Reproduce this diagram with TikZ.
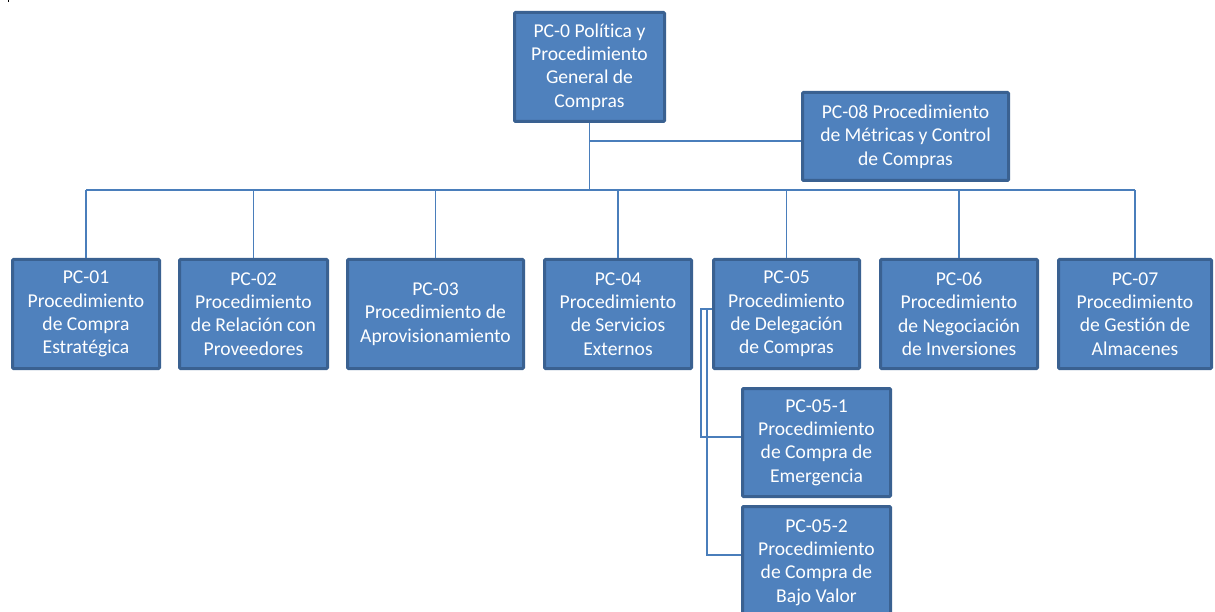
\documentclass[tikz,border=0pt]{standalone}
\usepackage{fontspec}
\setmainfont{Carlito}[Ligatures=NoCommon]
\definecolor{boxfill}{HTML}{4F81BD}
\definecolor{boxedge}{HTML}{3A6191}
\definecolor{linkcol}{HTML}{4A7EBB}
\begin{document}
\begin{tikzpicture}[x=1pt,y=1pt,
  box/.style={draw=boxedge, fill=boxfill, line width=3pt, rounded corners=1pt,
    text=white, align=center, inner sep=0pt,
    font=\fontsize{19.6}{23.3}\selectfont},
  link/.style={draw=linkcol, line width=1.1pt}]
\useasboundingbox (0,0) rectangle (1215,-612);
\fill[black] (7.5,0) rectangle (9,-2.5);
% top
\node[box, minimum width=150pt, minimum height=109pt] (p0) at (589.5,-67)
  {PC-0 Política y\\Procedimiento\\General de\\Compras};
\node[box, minimum width=206pt, minimum height=88pt] (p08) at (905.5,-136.5)
  {PC-08 Procedimiento\\de Métricas y Control\\de Compras};
% row
\node[box, minimum width=147pt, minimum height=109pt] (p01) at (86,-314)
  {PC-01\\Procedimiento\\de Compra\\Estratégica};
\node[box, minimum width=148pt, minimum height=109pt] (p02) at (253.5,-314)
  {PC-02\\Procedimiento\\de Relación con\\Proveedores};
\node[box, minimum width=176pt, minimum height=109pt] (p03) at (435.5,-314)
  {PC-03\\Procedimiento de\\Aprovisionamiento};
\node[box, minimum width=147pt, minimum height=109pt] (p04) at (618,-314)
  {PC-04\\Procedimiento\\de Servicios\\Externos};
\node[box, minimum width=146pt, minimum height=109pt] (p05) at (786.5,-314)
  {PC-05\\Procedimiento\\de Delegación\\de Compras};
\node[box, minimum width=157pt, minimum height=109pt] (p06) at (959,-314)
  {PC-06\\Procedimiento\\de Negociación\\de Inversiones};
\node[box, minimum width=153pt, minimum height=109pt] (p07) at (1135,-314)
  {PC-07\\Procedimiento\\de Gestión de\\Almacenes};
% sub
\node[box, minimum width=148pt, minimum height=108pt] (p051) at (816.5,-442.5)
  {PC-05-1\\Procedimiento\\de Compra de\\Emergencia};
\node[box, minimum width=148pt, minimum height=112pt] (p052) at (816.5,-562.5)
  {PC-05-2\\Procedimiento\\de Compra de\\Bajo Valor};
% connectors
\coordinate (bus) at (0,-190);
\coordinate (side) at (0,-141);
\draw[link] (p0.south) -- (p0.south |- bus);
\draw[link] (p0.south |- side) -- (p08.west |- side);
\draw[link] (p01.north |- bus) -- (p07.north |- bus);
\foreach \n in {p01,p02,p03,p04,p05,p06,p07}
  \draw[link] (\n.north |- bus) -- (\n.north);
\coordinate (sa) at (701,-309);
\coordinate (sb) at (707,-309);
\coordinate (ea) at (701,-437);
\coordinate (eb) at (707,-555);
\draw[link] (p05.west |- sa) -- (sa) -- (ea) -- (p051.west |- ea);
\draw[link] (p05.west |- sb) -- (sb) -- (eb) -- (p052.west |- eb);
\end{tikzpicture}
\end{document}
